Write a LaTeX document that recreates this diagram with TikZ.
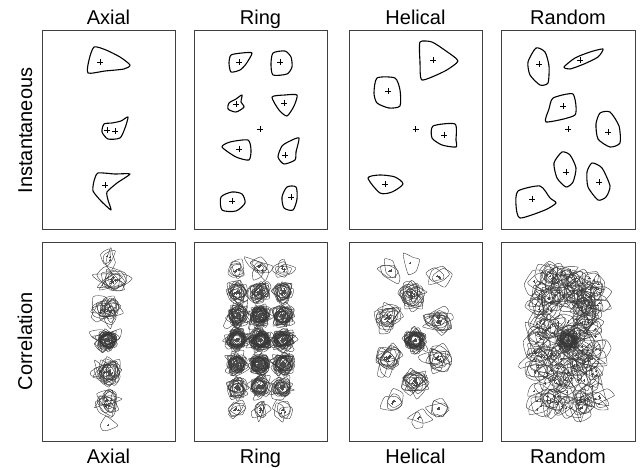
\documentclass[tikz,border=0pt]{standalone}
\usepackage{fontspec}
\setmainfont{Liberation Sans}
\tikzset{
  frame/.style={draw=black!75, line width=1pt},
  inst/.style={draw=black, line width=1.1pt, line join=round},
  cor/.style={draw=black!78, line width=0.38pt, line join=round},
  cpl/.style={draw=black!70, line width=0.3pt},
  pl/.style={draw=black, line width=0.6pt},
  lbl/.style={font=\fontsize{20}{24}\selectfont, inner sep=0pt, anchor=base},
}
\newcommand\myblob[3]{%
  \pgfmathsetmacro\bo{rnd*360}%
  \pgfmathsetmacro\el{0.6+0.8*rnd}%
  \foreach \j in {1,...,6}{%
    \pgfmathsetmacro\rh{#3*(0.4+0.6*rnd)}%
    \pgfmathsetmacro\ta{\j*60+18*rand}%
    \pgfmathsetmacro\lx{\rh*cos(\ta)*\el}%
    \pgfmathsetmacro\ly{\rh*sin(\ta)/\el}%
    \coordinate (q\j) at ({#1+\lx*cos(\bo)-\ly*sin(\bo)},{#2+\lx*sin(\bo)+\ly*cos(\bo)});
  }%
  \draw[cor] plot[smooth cycle, tension=0.35] coordinates {(q1) (q2) (q3) (q4) (q5) (q6)};
  \draw[cpl] (#1-1.2,#2) -- (#1+1.2,#2) (#1,#2-1.2) -- (#1,#2+1.2);
}
\newcommand\mycluster[6]{%
  \foreach \k in {1,...,#3}{%
    \pgfmathsetmacro\ccx{#1+#4*(rand+rand)/2}%
    \pgfmathsetmacro\ccy{#2+#5*(rand+rand)/2}%
    \pgfmathsetmacro\rr{#6*(0.85+0.3*rnd)}%
    \myblob{\ccx}{\ccy}{\rr}%
  }}
\newcommand\plus[2]{\draw[pl] (#1-3,#2) -- (#1+3,#2) (#1,#2-3) -- (#1,#2+3);}
\begin{document}
\begin{tikzpicture}[x=1pt,y=-1pt]
\pgfmathsetseed{11}
\fill[white] (0,0) rectangle (640,468);
\useasboundingbox (0,0) rectangle (640,468);
% frames
\foreach \xa/\xb/\nm in {42/175/a,194/327/b,349/482/c,501/635/d}{
  \draw[frame] (\xa,31) rectangle (\xb,229);
  \draw[frame] (\xa,242) rectangle (\xb,441);
}
% labels
\node[lbl] (t1) at (108.5,24.5) {Axial};
\node[lbl] (t2) at (260.5,24.5) {Ring};
\node[lbl] (t3) at (415.5,24.5) {Helical};
\node[lbl] (t4) at (568,24.5) {Random};
\node[lbl] (b1) at (108.5,463) {Axial};
\node[lbl] (b2) at (260.5,463) {Ring};
\node[lbl] (b3) at (415.5,463) {Helical};
\node[lbl] (b4) at (568,463) {Random};
\node[lbl, rotate=90] (l1) at (32,130.5) {Instantaneous};
\node[lbl, rotate=90] (l2) at (32,341.5) {Correlation};

% ---------- instantaneous: Axial
\draw[inst] plot[smooth cycle, tension=0.4] coordinates {(94,47) (106,50) (120,57) (130,65) (124,69) (105,71) (88,73) (89,60)};
\plus{100}{62}
\draw[inst] plot[smooth cycle, tension=0.4] coordinates {(104,124) (112,123) (121,121) (128,117) (125,128) (120,138) (108,139) (102,132)};
\plus{107}{130} \plus{115}{131}
\draw[inst] plot[smooth cycle, tension=0.35] coordinates {(98,173) (115,174) (130,174) (117,183) (107,192) (108,200) (111,210) (101,201) (93,191) (94,181)};
\plus{105}{185}

% ---------- Ring
\draw[inst] plot[smooth cycle, tension=0.4] coordinates {(231,55) (242,53) (252,53) (246,64) (240,70) (231,72) (229,63)};
\plus{239}{62}
\draw[inst] plot[smooth cycle, tension=0.4] coordinates {(273,53) (285,51) (291,57) (292,67) (287,74) (273,75) (271,64)};
\plus{280}{62}
\draw[inst] plot[smooth cycle, tension=0.45] coordinates {(236,99) (242,95) (241,102) (244,107) (236,112) (228,109) (229,103)};
\plus{236}{104}
\draw[inst] plot[smooth cycle, tension=0.4] coordinates {(272,97) (285,95) (297,95) (294,106) (287,116) (279,110)};
\plus{284}{103}
\draw[inst] plot[smooth cycle, tension=0.4] coordinates {(222,147) (230,142) (248,140) (251,150) (249,160) (236,157)};
\plus{239}{149}
\draw[inst] plot[smooth cycle, tension=0.4] coordinates {(299,138) (296,152) (295,160) (284,164) (278,157) (282,146) (290,141)};
\plus{285}{155}
\draw[inst] plot[smooth cycle, tension=0.45] coordinates {(221,197) (232,192) (242,194) (245,203) (236,211) (222,210)};
\plus{232}{201}
\draw[inst] plot[smooth cycle, tension=0.45] coordinates {(287,187) (296,187) (297,199) (293,210) (284,208) (282,197)};
\plus{291}{197}
\plus{260}{129}

% ---------- Helical
\draw[inst] plot[smooth cycle, tension=0.35] coordinates {(420,42) (432,42) (446,51) (458,61) (445,71) (422,80) (420,62)};
\plus{433}{60}
\draw[inst] plot[smooth cycle, tension=0.4] coordinates {(377,78) (395,78) (400,90) (400,106) (389,108) (377,103) (374,93)};
\plus{388}{91}
\draw[inst] plot[smooth cycle, tension=0.4] coordinates {(433,126) (455,124) (456,140) (456,147) (442,145) (432,138)};
\plus{444}{135}
\draw[inst] plot[smooth cycle, tension=0.45] coordinates {(368,178) (380,175) (395,177) (403,184) (392,192) (380,193)};
\plus{385}{184}
\plus{415.5}{129}

% ---------- Random
\draw[inst] plot[smooth cycle, tension=0.4] coordinates {(536,48) (545,52) (549,66) (548,83) (540,85) (530,75) (528,62)};
\plus{539}{64}
\draw[inst] plot[smooth cycle, tension=0.4] coordinates {(564,67) (575,58) (590,52) (603,49) (598,57) (584,64) (570,69)};
\plus{580}{60}
\draw[inst] plot[smooth cycle, tension=0.35] coordinates {(553,98) (573,94) (575,115) (546,122) (549,109)};
\plus{563}{106}
\draw[inst] plot[smooth cycle, tension=0.4] coordinates {(600,113) (610,112) (619,126) (620,143) (610,147) (598,139) (596,124)};
\plus{608}{132}
\draw[inst] plot[smooth cycle, tension=0.4] coordinates {(562,152) (570,155) (576,168) (573,182) (566,187) (557,178) (554,163)};
\plus{566}{172}
\draw[inst] plot[smooth cycle, tension=0.4] coordinates {(592,163) (602,168) (610,186) (606,197) (598,200) (588,187) (587,172)};
\plus{599}{182}
\draw[inst] plot[smooth cycle, tension=0.4] coordinates {(518,191) (540,186) (550,198) (556,203) (545,210) (520,218) (516,205)};
\plus{532}{199}
\plus{568}{129}

% ---------- correlation: Axial
\mycluster{108}{257}{3}{5}{4}{10}
\mycluster{110}{281}{9}{9}{5}{13}
\mycluster{108}{310}{14}{9}{4}{13}
\mycluster{107}{340}{28}{3}{2}{11}
\mycluster{107}{372}{16}{8}{4}{13}
\mycluster{108}{403}{10}{6}{5}{12}
\mycluster{110}{424}{1}{2}{2}{11}

% ---------- correlation: Ring
\foreach \cx/\m in {237/1,260/1.3,283/1}{
  \pgfmathtruncatemacro\na{4*\m}
  \pgfmathtruncatemacro\nb{13*\m}
  \pgfmathtruncatemacro\nc{22*\m}
  \pgfmathtruncatemacro\nd{28*\m}
  \mycluster{\cx}{268}{\na}{4}{4}{10}
  \mycluster{\cx}{292}{\nb}{3}{3}{11}
  \mycluster{\cx}{316}{\nc}{3}{3}{11}
  \mycluster{\cx}{340}{\nd}{2}{2}{11}
  \mycluster{\cx}{364}{\nc}{3}{3}{11}
  \mycluster{\cx}{387}{\nb}{3}{3}{11}
  \mycluster{\cx}{410}{\na}{4}{4}{10}
}

% ---------- correlation: Helical
\mycluster{415}{340}{28}{1}{1}{11}
\mycluster{412}{295}{13}{4}{6}{13}
\mycluster{388}{318}{10}{4}{4}{13}
\mycluster{438}{320}{10}{4}{5}{13}
\mycluster{388}{358}{10}{4}{4}{13}
\mycluster{438}{358}{9}{4}{4}{13}
\mycluster{415}{382}{11}{4}{5}{13}
\mycluster{390}{271}{3}{4}{3}{12}
\mycluster{410}{263}{1}{2}{2}{12}
\mycluster{438}{277}{3}{3}{3}{12}
\mycluster{393}{403}{3}{4}{3}{12}
\mycluster{419}{418}{2}{3}{3}{12}
\mycluster{439}{409}{3}{3}{3}{12}

% ---------- correlation: Random
\mycluster{568}{340}{28}{1}{1}{11}
\foreach \k in {1,...,230}{
  \pgfmathsetmacro\ccx{567+34*rand}
  \pgfmathsetmacro\ccy{340+70*rand}
  \pgfmathsetmacro\rr{10+5*rnd}
  \myblob{\ccx}{\ccy}{\rr}
}
\end{tikzpicture}
\end{document}
